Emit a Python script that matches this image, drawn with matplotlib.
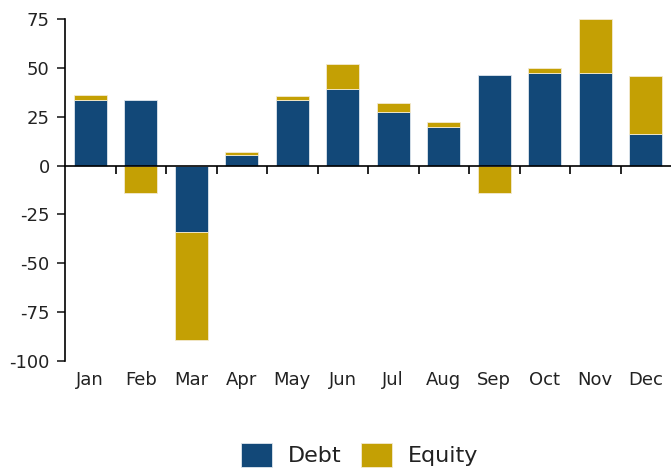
import numpy as np
import matplotlib.pyplot as plt

plt.rcParams["font.family"] = ["DejaVu Sans"]
plt.rcParams["axes.unicode_minus"] = False

# ── data ──────────────────────────────────────────────────────
months = ["Jan", "Feb", "Mar", "Apr", "May", "Jun",
          "Jul", "Aug", "Sep", "Oct", "Nov", "Dec"]
debt = [33.3, 33.3, -34.0, 5.3, 33.3, 39.3, 27.6, 19.5, 46.1, 47.6, 47.6, 16.3]
equity = [3.0, -14.0, -55.3, 1.7, 2.4, 12.6, 4.6, 2.6, -14.0, 2.4, 27.6, 29.6]

debt_color = "#124878"
equity_color = "#c4a004"

# ── plot ──────────────────────────────────────────────────────
fig = plt.figure(figsize=(6.71, 4.69), dpi=100)
ax = fig.add_axes([65 / 671, 1 - 361 / 469, 1 - 65 / 671, (361 - 19) / 469])

x = np.arange(len(months))
d = np.array(debt)
e = np.array(equity)
# equity stacks on debt when both have the same sign, else starts at zero
bottom = np.where(np.sign(d) == np.sign(e), d, 0)

ax.bar(x, d, width=0.66, color=debt_color, edgecolor="#dfe6ee",
       linewidth=0.6, label="Debt")
ax.bar(x, e, width=0.66, bottom=bottom, color=equity_color,
       edgecolor="#f3ead0", linewidth=0.6, label="Equity")

ax.set_xlim(-0.5, len(months) - 0.5)
ax.set_ylim(-100, 75)
ax.set_yticks([75, 50, 25, 0, -25, -50, -75, -100])
ax.tick_params(axis="y", labelsize=13, length=6, width=1.2, colors="#222222",
               pad=5)

for s in ["top", "right"]:
    ax.spines[s].set_visible(False)
ax.spines["left"].set_linewidth(1.2)
ax.spines["bottom"].set_position(("data", 0))
ax.spines["bottom"].set_linewidth(1.2)

# ticks on the zero line between categories
ax.set_xticks(np.arange(len(months) - 1) + 0.5)
ax.set_xticklabels([])
ax.tick_params(axis="x", length=6, width=1.2, direction="out")

# month labels at the bottom of the plot
sec = ax.secondary_xaxis("bottom")
sec.set_xticks(x)
sec.set_xticklabels(months)
sec.spines["bottom"].set_visible(False)
sec.tick_params(length=0, labelsize=13, pad=7, colors="#222222")

fig.legend(loc="center", bbox_to_anchor=(359.5 / 671, 1 - 455 / 469),
           ncol=2, frameon=False, fontsize=16, handlelength=1.4,
           handleheight=1.3, handletextpad=0.7, columnspacing=0.9,
           labelcolor="#222222")

fig.savefig("out.png", dpi=100)
